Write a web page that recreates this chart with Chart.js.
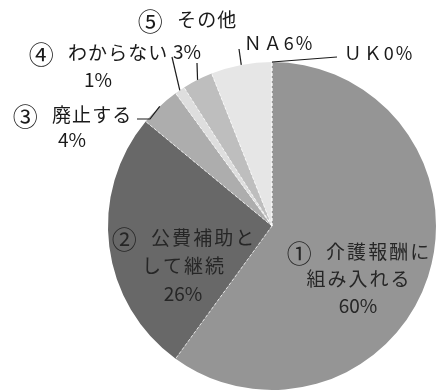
<!DOCTYPE html>
<html>
<head>
<meta charset="utf-8">
<script src="https://cdn.jsdelivr.net/npm/chart.js@4/dist/chart.umd.min.js"></script>
<style>
  html, body { margin: 0; padding: 0; background: #ffffff; }
  #wrap { width: 440px; height: 391px; position: relative; }
</style>
</head>
<body>
<div id="wrap"><canvas id="pie"></canvas></div>
<script>
// Survey answers (share of respondents, %)
const categories = ['① 介護報酬に\n組み入れる', '② 公費補助と\nして継続', '③ 廃止する', '④ わからない', '⑤ その他', 'ＮＡ', 'ＵＫ'];
const shares = [60, 26, 4, 1, 3, 6, 0];
const sliceColors = ['#959595', '#686868', '#adadad', '#dedede', '#bebebe', '#e6e6e6', '#a0a0a0'];

// Where each caption sits; "inline" puts the percentage on the same line
const captionLayout = [
  { x: 358, y: 252, lineGap: 27, size: 19, spacing: 2 },
  { x: 183, y: 238, lineGap: 28, size: 19, spacing: 2 },
  { x: 72, y: 115, lineGap: 25, size: 19, spacing: 1, leader: [[150, 119], [137, 119]] },
  { x: 98, y: 53, lineGap: 27, size: 19, spacing: 1, leader: [[172, 57]] },
  { x: 187, y: 20, lineGap: 32, size: 19, spacing: 1, leader: [[197, 63]] },
  { x: 278, y: 43, size: 18, spacing: 2, inline: true, leader: [[239, 49]] },
  { x: 378, y: 53, size: 18, spacing: 2, inline: true, leader: [[337, 57]] }
];

const FONT = '"Noto Sans CJK JP", "Noto Sans", sans-serif';

function shade(hex, f) {
  const n = parseInt(hex.slice(1), 16);
  const r = (n >> 16) & 255, g = (n >> 8) & 255, b = n & 255;
  const m = v => Math.max(0, Math.min(255, Math.round(v * f)));
  return `rgb(${m(r)},${m(g)},${m(b)})`;
}

// Radial shading: flat face with a darker rim toward the edge
function sliceFill(ctx) {
  const chart = ctx.chart;
  const base = sliceColors[ctx.dataIndex];
  const arc = chart.getDatasetMeta(0).data[ctx.dataIndex];
  if (!arc || !arc.outerRadius) return base;
  const { x, y, outerRadius } = arc;
  const g = chart.ctx.createRadialGradient(x, y, 0, x, y, outerRadius);
  g.addColorStop(0, shade(base, 1.03));
  g.addColorStop(0.88, base);
  g.addColorStop(0.97, shade(base, 0.93));
  g.addColorStop(1, shade(base, 0.82));
  return g;
}

// One centred caption line; a leading circled number is drawn larger, followed by a wide gap
function drawLine(c, text, cx, y, size, spacing) {
  const m = text.match(/^([\u2460-\u2473])\s*(.*)$/);
  c.textBaseline = 'middle';
  c.textAlign = 'left';
  if (!m) {
    c.font = `${size}px ${FONT}`;
    c.letterSpacing = spacing + 'px';
    const w = c.measureText(text).width - spacing;
    c.fillText(text, cx - w / 2, y);
    return;
  }
  const big = Math.round(size * 1.3);
  c.font = `${big}px ${FONT}`;
  c.letterSpacing = '0px';
  const w1 = c.measureText(m[1]).width;
  c.font = `${size}px ${FONT}`;
  c.letterSpacing = spacing + 'px';
  const w2 = c.measureText(m[2]).width - spacing;
  const gap = size * 0.75;
  const x0 = cx - (w1 + gap + w2) / 2;
  c.fillText(m[2], x0 + w1 + gap, y);
  c.font = `${big}px ${FONT}`;
  c.letterSpacing = '0px';
  c.fillText(m[1], x0, y + 1);
}

const captions = {
  id: 'captions',
  afterDatasetsDraw(chart) {
    const c = chart.ctx;
    const arcs = chart.getDatasetMeta(0).data;
    c.save();

    // dashed light separators between neighbouring slices
    c.strokeStyle = 'rgba(255,255,255,0.75)';
    c.lineWidth = 1;
    c.setLineDash([3, 2]);
    arcs.forEach(a => {
      c.beginPath();
      c.moveTo(a.x, a.y);
      c.lineTo(a.x + Math.cos(a.startAngle) * a.outerRadius, a.y + Math.sin(a.startAngle) * a.outerRadius);
      c.stroke();
    });
    c.setLineDash([]);

    arcs.forEach((a, i) => {
      const lay = captionLayout[i];
      const pct = shares[i] + '%';
      // leader line from the slice's outer edge to the caption
      if (lay.leader) {
        const mid = (a.startAngle + a.endAngle) / 2;
        c.beginPath();
        c.strokeStyle = '#1a1a1a';
        c.lineWidth = 1.2;
        c.moveTo(a.x + Math.cos(mid) * a.outerRadius, a.y + Math.sin(mid) * a.outerRadius);
        lay.leader.forEach(p => c.lineTo(p[0], p[1]));
        c.stroke();
      }
      c.fillStyle = i < 2 ? '#262626' : '#1a1a1a';
      if (lay.inline) {
        drawLine(c, categories[i] + pct, lay.x, lay.y, lay.size, lay.spacing);
      } else {
        const lines = categories[i].split('\n');
        lines.forEach((t, k) => drawLine(c, t, lay.x, lay.y + k * lay.lineGap, lay.size, lay.spacing));
        drawLine(c, pct, lay.x, lay.y + lines.length * lay.lineGap, lay.size, 0);
      }
    });
    c.restore();
  }
};

new Chart(document.getElementById('pie'), {
  type: 'pie',
  data: {
    labels: categories,
    datasets: [{
      data: shares,
      backgroundColor: sliceFill,
      borderWidth: 0
    }]
  },
  options: {
    responsive: true,
    maintainAspectRatio: false,
    animation: false,
    layout: { padding: { left: 108, right: 4, top: 62, bottom: 1 } },
    plugins: {
      legend: { display: false },
      tooltip: { enabled: false }
    }
  },
  plugins: [captions]
});
</script>
</body>
</html>
